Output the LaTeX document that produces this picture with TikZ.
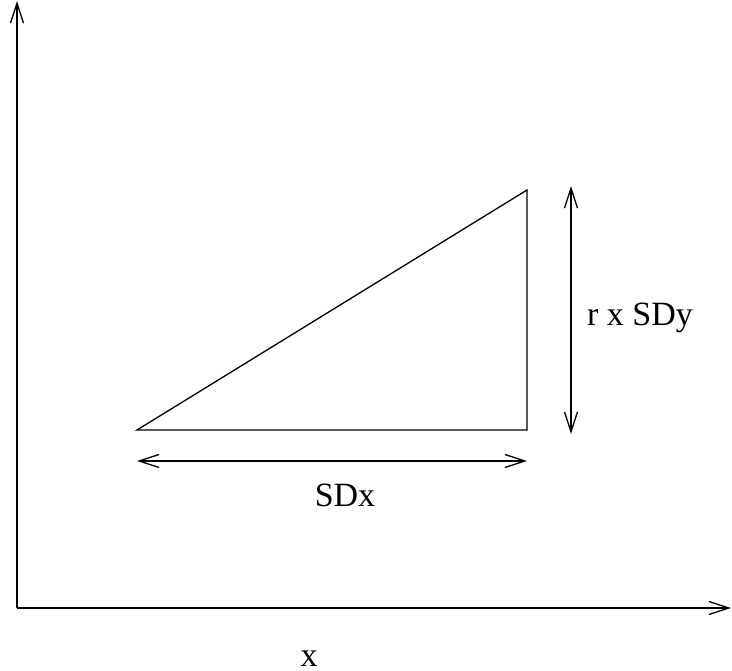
\documentclass[tikz,border=0pt]{standalone}
\usepackage{fontspec}
\setmainfont{Liberation Serif}
\usetikzlibrary{arrows.meta}
\begin{document}
\begin{tikzpicture}[x=1pt,y=-1pt,
  ln/.style={line width=1.3pt},
  arr/.style={ln,-{Straight Barb[length=20pt,width=13pt,line width=1.3pt]}},
  darr/.style={ln,{Straight Barb[length=20pt,width=13pt,line width=1.3pt]}-{Straight Barb[length=20pt,width=13pt,line width=1.3pt]}},
  lbl/.style={font=\fontsize{34}{40}\selectfont, inner sep=0pt}]
\useasboundingbox (0,0) rectangle (732,671);
\coordinate (O) at (17,608);
\coordinate (Ytop) at (17,1);
\coordinate (Xend) at (731,608);
\draw[arr] (O) -- (Ytop);
\draw[arr] (O) -- (Xend);
\coordinate (A) at (137,430);
\coordinate (B) at (527,430);
\coordinate (C) at (527,190);
\draw[ln, line join=miter] (A) -- (B) -- (C) -- cycle;
\coordinate (Dl) at (137,461);
\coordinate (Dr) at (527,461);
\draw[darr] (Dl) -- (Dr);
\coordinate (Vt) at (571,186);
\coordinate (Vb) at (571,434);
\draw[darr] (Vt) -- (Vb);
\node[lbl] (sdx) at (345,495) {SDx};
\node[lbl] (sdy) at (640,318) {r x SDy};
\node[lbl, anchor=base] (xl) at (309,666) {x};
\end{tikzpicture}
\end{document}
